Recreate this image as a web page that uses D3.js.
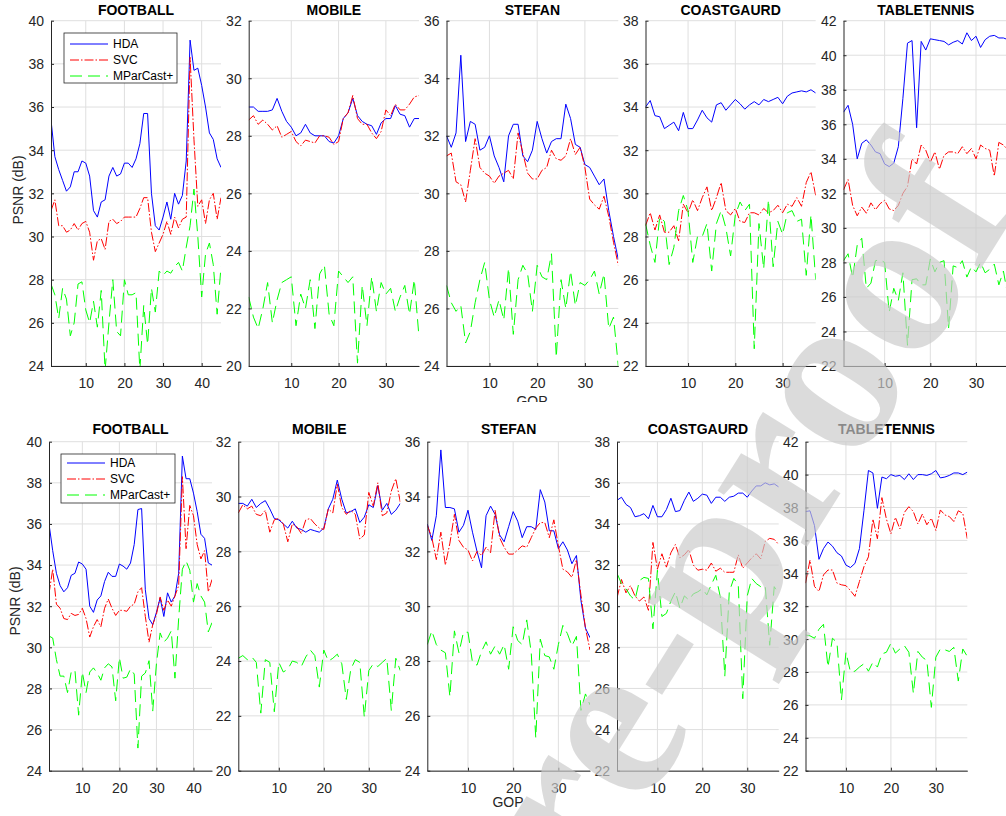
<!DOCTYPE html>
<html>
<head>
<meta charset="utf-8">
<script src="https://cdn.jsdelivr.net/npm/d3@7/dist/d3.min.js"></script>
<style>
  body { margin: 0; background: #fff; }
  svg { display: block; font-family: Arial, "Liberation Sans", Helvetica, sans-serif; }
</style>
</head>
<body>
<svg id="chart" width="1006" height="816"></svg>
<script>
// 视频序列名称与图例
const videos = ["FOOTBALL", "MOBILE", "STEFAN", "COASTGAURD", "TABLETENNIS"];
const seriesNames = ["HDA", "SVC", "MParCast+"];
const yRanges = [[24, 40], [20, 32], [24, 36], [22, 38], [22, 42]];
const gopCounts = [45, 37, 37, 37, 37];
const xTicksFootball = [10, 20, 30, 40];
const xTicksOther = [10, 20, 30];

// ---- 上排 ----
const hdaFootballA = [35.4,33.7,33.1,32.6,32.1,32.3,33.0,33.0,33.5,33.4, 32.8,31.2,30.9,31.6,31.7,32.8,33.2,32.8,32.9,33.4, 33.4,33.2,33.6,34.3,35.7,35.7,32.0,30.5,30.3,30.9, 31.6,30.8,32.0,31.5,31.9,33.5,39.1,37.7,37.8,37.0, 36.0,34.8,34.5,33.6,33.2];
const svcFootballA = [31.2,31.7,30.5,30.5,30.2,30.3,30.6,30.3,30.6,30.7, 30.2,28.9,29.8,29.9,29.4,30.7,30.8,30.6,30.7,30.9, 30.9,30.9,30.9,31.3,31.8,31.8,30.2,29.3,29.7,30.1, 30.7,30.1,30.9,30.4,30.8,30.9,38.3,34.5,31.4,31.7, 30.6,31.7,32.0,30.8,31.8];
const mpcFootballA = [27.8,27.3,26.2,27.6,27.1,25.4,26.0,27.8,27.9,26.6, 26.0,27.0,25.8,27.5,23.8,26.0,28.0,25.6,25.4,28.0, 27.3,27.3,27.4,23.8,26.8,25.0,27.6,26.5,28.4,28.2, 28.4,28.3,28.6,28.8,28.4,29.5,30.5,32.2,30.0,27.2, 29.2,29.7,28.7,26.4,28.6];

const hdaMobileA = [29.0,29.0,28.85,28.85,28.85,28.9,29.3,28.85,28.5,28.3, 28.0,28.1,28.4,28.1,28.0,28.0,28.0,27.8,27.75,28.0, 28.6,28.8,29.3,28.7,28.5,28.4,28.35,28.05,28.45,28.6, 28.6,29.05,28.75,28.7,28.3,28.6,28.6];
const svcMobileA = [28.55,28.7,28.4,28.55,28.4,28.2,28.35,27.95,28.05,28.15, 27.8,27.65,27.85,27.8,27.75,28.0,28.0,27.95,27.7,27.8, 28.6,28.8,29.4,28.6,28.4,28.4,28.1,27.9,28.15,28.9, 28.7,29.1,28.9,28.9,29.1,29.35,29.4];
const mpcMobileA = [22.4,21.7,21.3,22.0,22.9,21.5,22.3,22.9,23.0,23.1, 21.4,22.5,22.0,23.0,21.3,23.2,23.5,21.8,21.4,23.3, 23.1,22.9,23.1,20.1,22.8,21.4,23.1,21.9,22.9,22.5, 22.7,21.9,22.4,22.8,21.8,23.0,21.0];

const hdaStefanA = [32.0,31.6,32.1,34.8,31.8,32.5,32.4,31.5,31.6,32.0, 31.3,30.9,30.4,32.0,32.4,32.4,31.3,31.1,31.5,32.5, 31.9,31.4,31.8,31.9,31.9,33.1,32.6,31.7,31.6,31.0, 30.9,30.6,30.3,30.5,29.4,28.5,27.7];
const svcStefanA = [31.3,31.4,30.4,30.3,29.7,30.8,31.9,30.9,30.7,30.6, 30.35,30.6,30.7,30.8,30.5,32.1,31.4,30.7,30.5,30.5, 30.8,30.9,31.5,31.2,31.15,31.3,31.9,31.35,31.6,30.9, 29.8,29.6,29.45,29.9,29.2,28.3,27.5];
const mpcStefanA = [26.8,26.2,25.9,26.1,24.8,25.2,26.2,27.0,27.6,26.3, 25.7,26.3,25.6,27.4,25.1,27.0,27.5,27.2,25.9,27.5, 27.1,27.0,27.9,24.3,27.0,26.0,27.3,26.1,26.9,26.8, 27.0,27.3,26.5,27.2,25.3,25.7,24.0];

const hdaCoastA = [34.0,34.3,33.6,33.55,33.0,33.15,33.3,32.9,33.75,33.0, 33.0,33.4,33.85,33.5,33.3,34.1,34.2,33.85,34.1,34.35, 34.15,33.9,34.1,34.25,34.1,34.35,34.25,34.35,34.45,34.15, 34.5,34.65,34.7,34.75,34.7,34.8,34.65];
const svcCoastA = [28.5,29.1,28.3,29.0,28.2,28.2,28.5,27.8,29.5,29.1, 29.7,29.2,29.8,30.3,29.2,29.8,30.5,29.2,29.0,29.3, 28.7,28.65,29.1,29.1,29.0,29.3,29.1,29.2,29.45,29.1, 29.5,29.4,29.8,29.4,30.5,31.0,29.9];
const mpcCoastA = [28.6,27.6,26.8,28.9,28.7,26.7,27.5,29.2,29.9,29.2, 26.8,28.0,28.0,28.6,26.4,28.6,29.2,28.4,27.1,29.0, 29.6,29.2,29.5,22.8,28.6,26.5,29.7,26.6,28.7,28.1, 29.1,29.2,28.7,28.8,26.2,29.0,26.0];

const hdaTennisA = [36.7,37.1,36.0,34.0,34.9,35.1,34.8,34.4,34.3,33.7, 33.55,33.75,34.7,37.5,40.7,40.85,35.8,40.8,40.3,40.95, 40.9,40.85,40.8,40.6,40.75,40.85,40.65,41.3,40.85,41.1, 40.45,40.9,41.1,41.15,41.0,41.0,40.9];
const svcTennisA = [32.2,32.8,31.3,30.7,31.2,30.85,31.45,31.05,31.4,31.6, 31.1,31.0,31.3,32.0,32.4,34.0,33.7,34.8,34.5,33.8, 34.4,33.4,34.2,34.4,34.4,34.3,34.7,34.3,34.6,34.0, 34.8,34.6,34.5,33.0,34.95,34.8,34.5];
const mpcTennisA = [28.1,28.5,27.1,29.0,29.4,26.5,26.8,28.1,28.15,28.0, 25.1,26.5,25.8,27.4,23.2,27.0,27.05,26.7,26.7,28.2, 27.45,28.0,28.1,24.2,27.8,27.7,28.1,27.15,27.75,27.45, 28.0,27.4,27.6,27.9,26.7,27.5,26.0];

// ---- 下排 ----
const hdaFootballB = [36.0,34.7,33.6,33.0,32.7,32.9,33.5,33.6,34.15,34.05, 33.8,32.0,31.7,32.3,32.5,33.2,33.65,33.45,33.45,34.05, 33.95,33.8,34.1,35.0,36.7,36.75,32.8,31.4,31.1,31.7, 32.4,31.5,32.65,32.2,32.5,33.6,39.3,38.2,38.2,37.5, 36.6,35.5,35.3,34.1,34.0];
const svcFootballB = [32.6,33.8,32.1,31.9,31.4,31.35,31.65,31.55,31.6,31.9, 31.4,30.5,31.0,31.35,31.0,31.9,32.35,31.9,31.55,31.8, 31.8,31.75,32.0,32.1,32.7,32.9,31.5,30.25,31.1,31.6, 32.45,31.8,32.3,32.0,32.5,33.0,38.3,34.8,36.9,36.4, 35.0,34.3,34.7,32.7,33.3];
const mpcFootballB = [30.55,30.45,29.4,28.6,28.6,27.8,28.8,28.9,26.7,28.8, 27.8,28.8,29.0,28.75,28.4,29.0,29.2,29.05,27.4,29.5, 28.5,28.55,28.95,28.7,25.1,28.6,28.75,29.35,26.9,29.2, 30.7,30.25,30.45,30.8,28.5,31.4,33.8,34.2,33.75,32.2, 33.1,32.5,32.2,30.75,31.2];

const hdaMobileB = [29.75,29.75,29.65,29.9,29.6,29.75,29.85,29.55,29.2,29.15, 29.0,28.85,29.1,28.85,28.8,28.7,28.8,28.75,28.7,28.85, 29.55,29.9,30.6,29.9,29.4,29.45,29.55,29.05,29.25,29.7, 29.6,30.4,29.5,29.75,29.35,29.5,29.75];
const svcMobileB = [29.4,29.7,29.55,29.65,29.35,29.3,29.5,28.7,29.15,29.2, 29.0,28.35,29.0,28.9,28.65,29.15,29.2,29.0,28.85,28.8, 29.55,29.4,30.45,29.6,29.35,29.5,29.35,28.45,28.6,30.15, 29.65,30.5,29.3,29.4,30.2,30.65,29.8];
const mpcMobileB = [24.1,24.2,24.05,24.15,23.95,22.1,24.05,23.95,22.15,23.95, 23.6,23.7,24.0,23.95,23.8,24.15,24.4,24.2,23.05,24.4, 24.0,24.1,24.25,23.9,22.6,23.7,24.05,23.95,21.95,23.65, 23.9,23.8,23.95,24.1,22.2,24.1,23.65];

const hdaStefanB = [33.0,32.4,33.3,35.7,33.6,33.6,33.55,32.7,32.95,33.5, 32.7,32.0,31.4,33.3,33.65,33.35,32.6,32.35,32.9,33.45, 33.1,32.5,32.9,32.9,32.8,34.25,33.8,32.75,32.75,32.1, 32.35,32.05,31.55,31.85,30.2,29.2,28.85];
const svcStefanB = [32.95,32.5,31.7,32.7,31.5,32.3,33.35,32.4,32.15,32.05, 31.65,32.0,31.85,32.15,31.95,33.5,32.5,32.15,31.9,31.9, 32.05,32.2,32.15,32.5,32.85,33.05,33.05,32.5,33.15,32.2, 31.35,31.25,31.05,31.7,30.4,29.2,28.4];
const mpcStefanB = [28.6,29.1,28.6,28.4,28.3,26.7,29.1,28.3,29.05,29.05, 27.95,27.85,28.35,28.7,28.25,28.55,28.25,28.6,27.7,29.25, 28.75,28.6,29.5,28.3,25.2,28.8,28.2,28.15,27.7,28.6, 29.3,29.0,28.55,28.9,26.2,26.8,26.4];

const hdaCoastB = [35.15,35.3,34.95,34.8,34.35,34.4,34.5,34.25,34.9,34.35, 34.35,34.7,35.25,34.6,34.65,35.15,35.55,35.1,35.25,35.45, 35.4,35.0,35.3,35.3,35.1,35.3,35.35,35.5,35.5,35.3, 35.6,35.85,35.85,36.0,35.9,35.95,35.8];
const svcCoastB = [30.4,31.3,30.65,31.0,30.5,30.25,30.45,29.8,33.1,31.8, 32.55,31.9,32.6,33.0,32.35,32.5,32.75,32.0,31.75,31.8, 31.75,32.1,31.7,31.85,31.65,31.65,31.65,32.5,31.85,32.1, 32.35,32.55,32.3,33.15,33.3,33.25,33.0];
const mpcCoastB = [31.6,31.1,30.85,30.5,30.3,31.25,31.4,31.35,28.9,31.75, 29.5,29.65,30.25,30.7,29.9,30.5,30.3,30.6,30.7,30.85, 30.55,31.05,31.5,30.45,26.6,30.7,31.35,31.05,25.5,30.5, 31.35,31.1,30.95,31.0,28.1,30.95,30.6];

const hdaTennisB = [37.75,37.8,36.9,34.85,35.5,35.9,35.65,35.25,35.05,34.5, 34.35,34.6,35.5,37.8,40.25,40.1,37.95,39.85,39.75,40.0, 39.9,39.95,39.7,40.05,39.7,40.0,40.0,39.95,40.05,40.25, 39.8,39.85,39.95,40.1,40.1,40.0,40.15];
const svcTennisB = [33.4,34.8,33.2,32.9,33.9,34.2,34.2,33.4,33.3,33.25, 32.95,32.6,33.5,34.4,35.0,37.3,36.1,38.6,37.3,36.4, 37.4,36.7,37.7,38.05,37.75,37.0,37.6,36.95,37.35,36.6, 37.85,37.55,37.45,37.15,37.8,37.65,36.1];
const mpcTennisB = [30.25,30.2,30.05,30.6,30.9,28.3,30.05,29.8,26.3,29.2, 28.0,28.05,28.3,28.5,28.05,28.6,28.3,29.1,29.2,29.75, 29.15,29.4,29.6,29.2,26.7,29.25,28.9,28.7,25.85,28.9, 29.4,29.35,29.25,29.5,27.45,29.4,28.95];

const rowData = [
    [[hdaFootballA, svcFootballA, mpcFootballA], [hdaMobileA, svcMobileA, mpcMobileA], [hdaStefanA, svcStefanA, mpcStefanA], [hdaCoastA, svcCoastA, mpcCoastA], [hdaTennisA, svcTennisA, mpcTennisA]],
    [[hdaFootballB, svcFootballB, mpcFootballB], [hdaMobileB, svcMobileB, mpcMobileB], [hdaStefanB, svcStefanB, mpcStefanB], [hdaCoastB, svcCoastB, mpcCoastB], [hdaTennisB, svcTennisB, mpcTennisB]]
];

// 线型
const colors = ["#0000ff", "#ff0000", "#00ff00"];
const dashes = [null, "9,2,1.5,2", "12,6"];

// 版面 (两张子图拼在一起)
const rows = [
    { top: 20.7, bottom: 366, titleY: 15, tickY: 384,
      lefts: [51, 248.7, 446.5, 645.5, 843.5], rights: [221, 419, 618.3, 815.7, 1008],
      legend: { x: 64, y: 33, w: 113, h: 50, dy: [11, 27, 43] },
      ylabel: { x: 23, y: 190 }, xlabel: { x: 532, y: 406, clip: 402 } },
    { top: 441.7, bottom: 770.7, titleY: 434, tickY: 790,
      lefts: [49, 238.3, 427.3, 617, 805.5], rights: [212, 400.3, 590, 778.7, 967.3],
      legend: { x: 61, y: 454, w: 114, h: 49, dy: [9, 25, 41] },
      ylabel: { x: 20, y: 601 }, xlabel: { x: 508, y: 807, clip: 816 } }
];

const svg = d3.select("#chart");
const defs = svg.append("defs");
const axisColor = "#262626";

function drawPanel(row, r, p) {
    const left = row.lefts[p], right = row.rights[p];
    const series = rowData[r][p];
    const n = gopCounts[p];

    const x = d3.scaleLinear().domain([1, n]).range([left, right]);
    const y = d3.scaleLinear().domain(yRanges[p]).range([row.bottom, row.top]);
    const yTicks = d3.range(yRanges[p][0], yRanges[p][1] + 0.1, 2);
    const xTicks = p === 0 ? xTicksFootball : xTicksOther;

    const g = svg.append("g");

    // 网格
    g.selectAll(".gy").data(yTicks).join("line")
        .attr("x1", left).attr("x2", right)
        .attr("y1", d => y(d)).attr("y2", d => y(d))
        .attr("stroke", "#dfdfdf").attr("stroke-width", 1);
    g.selectAll(".gx").data(xTicks).join("line")
        .attr("x1", d => x(d)).attr("x2", d => x(d))
        .attr("y1", row.top).attr("y2", row.bottom)
        .attr("stroke", "#dfdfdf").attr("stroke-width", 1);

    // 裁剪区域
    const clipId = `clip${r}${p}`;
    defs.append("clipPath").attr("id", clipId)
        .append("rect")
        .attr("x", left).attr("y", row.top)
        .attr("width", right - left).attr("height", row.bottom - row.top);

    const line = d3.line()
        .x((_, i) => x(i + 1))
        .y(d => y(d));

    const lines = g.append("g").attr("clip-path", `url(#${clipId})`);
    series.forEach((vals, k) => {
        lines.append("path")
            .datum(vals)
            .attr("fill", "none")
            .attr("stroke", colors[k])
            .attr("stroke-width", 1)
            .attr("stroke-dasharray", dashes[k])
            .attr("d", line);
    });

    // 坐标轴
    const yAxis = g.append("g")
        .attr("transform", `translate(${left},0)`)
        .call(d3.axisLeft(y).tickValues(yTicks).tickSizeInner(-3).tickSizeOuter(0).tickPadding(7));
    const xAxis = g.append("g")
        .attr("transform", `translate(0,${row.bottom})`)
        .call(d3.axisBottom(x).tickValues(xTicks).tickSizeInner(-3).tickSizeOuter(0).tickPadding(12));
    [yAxis, xAxis].forEach(a => {
        a.select(".domain").attr("stroke", axisColor).attr("stroke-width", 1);
        a.selectAll(".tick line").attr("stroke", axisColor);
        a.selectAll("text")
            .attr("fill", axisColor)
            .style("font-size", "14px")
            .style("font-family", "Arial, 'Liberation Sans', sans-serif");
    });
    yAxis.selectAll("text").attr("dy", "0.35em");

    // 标题
    g.append("text")
        .attr("x", (left + right) / 2)
        .attr("y", row.titleY)
        .attr("text-anchor", "middle")
        .style("font-size", "14px")
        .style("font-weight", "bold")
        .attr("fill", "#000")
        .text(videos[p]);
}

function drawLegend(row) {
    const L = row.legend;
    const lg = svg.append("g");
    lg.append("rect")
        .attr("x", L.x).attr("y", L.y)
        .attr("width", L.w).attr("height", L.h)
        .attr("fill", "#fff").attr("stroke", axisColor).attr("stroke-width", 0.8);
    seriesNames.forEach((name, k) => {
        const cy = L.y + L.dy[k];
        lg.append("line")
            .attr("x1", L.x + 6).attr("x2", L.x + 44)
            .attr("y1", cy).attr("y2", cy)
            .attr("stroke", colors[k]).attr("stroke-width", 1)
            .attr("stroke-dasharray", dashes[k]);
        lg.append("text")
            .attr("x", L.x + 49).attr("y", cy)
            .attr("dy", "0.35em")
            .style("font-size", "12px")
            .attr("fill", "#000")
            .text(name);
    });
}

rows.forEach((row, r) => {
    videos.forEach((_, p) => drawPanel(row, r, p));
    drawLegend(row);

    svg.append("text")
        .attr("transform", `translate(${row.ylabel.x},${row.ylabel.y}) rotate(-90)`)
        .attr("text-anchor", "middle")
        .style("font-size", "14px")
        .attr("fill", axisColor)
        .text("PSNR (dB)");

    const cid = `xlab${r}`;
    defs.append("clipPath").attr("id", cid)
        .append("rect").attr("x", 0).attr("y", 0).attr("width", 1006).attr("height", row.xlabel.clip);
    svg.append("text")
        .attr("clip-path", `url(#${cid})`)
        .attr("x", row.xlabel.x).attr("y", row.xlabel.y)
        .attr("text-anchor", "middle")
        .style("font-size", "14px")
        .attr("fill", axisColor)
        .text("GOP");
});

// 水印
svg.append("text")
    .attr("transform", "translate(1018,209) rotate(-58)")
    .attr("text-anchor", "end")
    .style("font-family", "'Liberation Serif', 'DejaVu Serif', serif")
    .style("font-size", "230px")
    .style("font-weight", "bold")
    .attr("fill", "#cbcbcb")
    .attr("opacity", 0.68)
    .text("Journal Pre-proof");
</script>
</body>
</html>
